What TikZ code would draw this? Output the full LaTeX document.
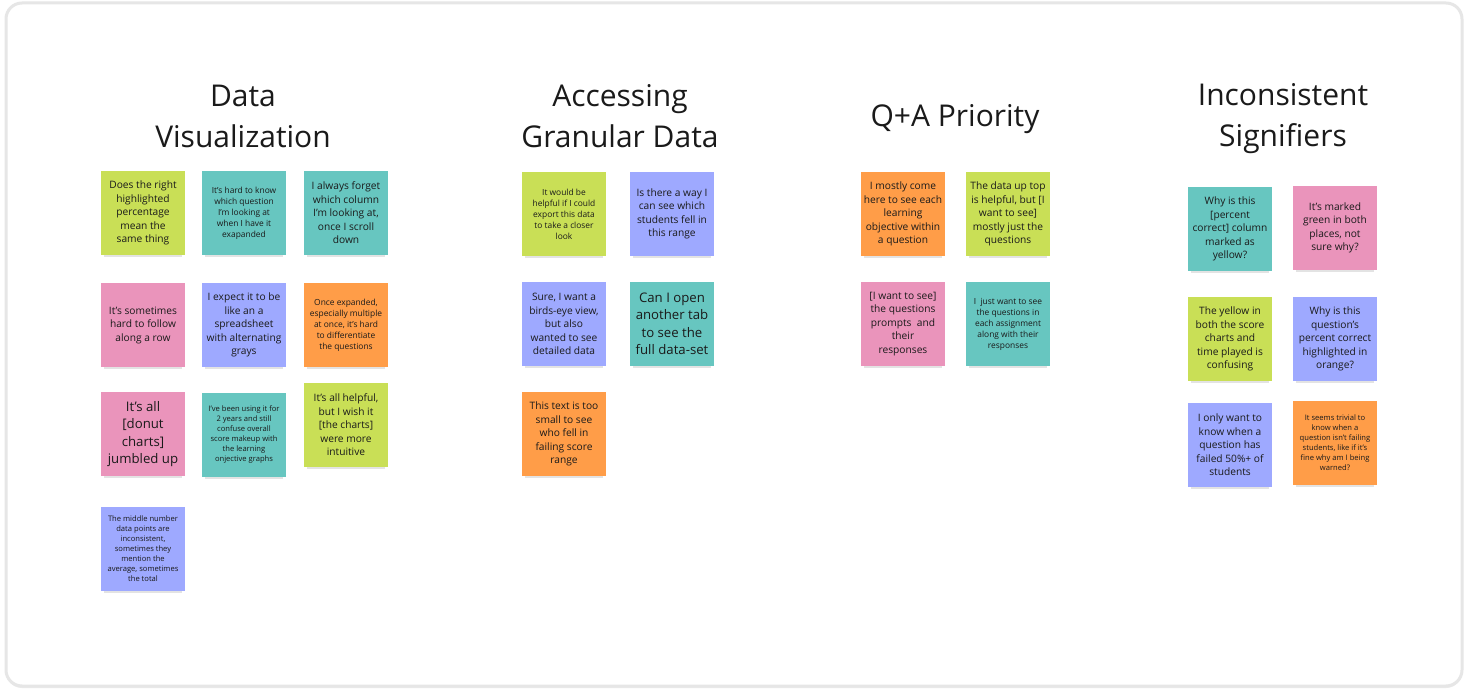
\documentclass[tikz,border=0pt]{standalone}
\usepackage{fontspec}
\setmainfont{Open Sans}
\usepackage{xcolor}
\usepackage{tikz}
\usetikzlibrary{shadows}

\definecolor{limeN}{HTML}{C9DF56}
\definecolor{tealN}{HTML}{67C6C0}
\definecolor{pinkN}{HTML}{EA94BB}
\definecolor{violetN}{HTML}{9EA9FF}
\definecolor{orangeN}{HTML}{FF9D48}
\definecolor{frameN}{HTML}{E6E6E6}
\definecolor{inkN}{HTML}{1A1A1A}

\tikzset{
	note/.style={minimum width=84pt, minimum height=84pt, inner sep=0pt, align=center,
		text=inkN, drop shadow={shadow xshift=0pt, shadow yshift=-6pt, opacity=.22, shadow scale=.92}},
	title/.style={font=\fontsize{30}{41}\selectfont, align=center, text=inkN},
	big/.style={font=\fontsize{13.2}{17.5}\selectfont},
	mid/.style={font=\fontsize{10.2}{13.5}\selectfont},
	small/.style={font=\fontsize{8.4}{11}\selectfont},
	tiny/.style={font=\fontsize{7.6}{10}\selectfont},
}

\begin{document}
\begin{tikzpicture}[x=1pt, y=-1pt]
	\useasboundingbox (0,0) rectangle (1468,692);
	% board
	\fill[white] (0,0) rectangle (1468,692);
	\draw[frameN, line width=3pt, rounded corners=16pt, fill=white,
		drop shadow={shadow xshift=0pt, shadow yshift=-2pt, opacity=.15}] (6,3) rectangle (1462,686);
	
	% titles
	\node[title] (t1) at (243,116) {Data\\Visualization};
	\node[title] (t2) at (620,116) {Accessing\\Granular Data};
	\node[title] (t3) at (955,119) {Q+A Priority};
	\node[title] (t4) at (1283,119) {Inconsistent\\Signifiers};
	
	% Data Visualization
	\node[note, fill=limeN, mid] (a1) at (143,213) {Does the right\\highlighted\\percentage\\mean the\\same thing};
	\node[note, fill=tealN, small] (a2) at (244,213) {It's hard to know\\which question\\I'm looking at\\when I have it\\exapanded};
	\node[note, fill=tealN, mid] (a3) at (346,213) {I always forget\\which column\\I'm looking at,\\once I scroll\\down};
	\node[note, fill=pinkN, mid] (a4) at (143,325) {It's sometimes\\hard to follow\\along a row};
	\node[note, fill=violetN, mid] (a5) at (244,325) {I expect it to be\\like an a\\spreadsheet\\with alternating\\grays};
	\node[note, fill=orangeN, small] (a6) at (346,325) {Once expanded,\\especially multiple\\at once, it's hard\\to differentiate\\the questions};
	\node[note, fill=pinkN, big] (a7) at (143,434) {It's all\\{[}donut\\charts{]}\\jumbled up};
	\node[note, fill=tealN, tiny] (a8) at (244,435) {I've been using it for\\2 years and still\\confuse overall\\score makeup with\\the learning\\onjective graphs};
	\node[note, fill=limeN, mid] (a9) at (346,425) {It's all helpful,\\but I wish it\\{[}the charts{]}\\were more\\intuitive};
	\node[note, fill=violetN, tiny] (a10) at (143,549) {The middle number\\data points are\\inconsistent,\\sometimes they\\mention the\\average, sometimes\\the total};
	
	% Accessing Granular Data
	\node[note, fill=limeN, small] (b1) at (564,214) {It would be\\helpful if I could\\export this data\\to take a closer\\look};
	\node[note, fill=violetN, mid] (b2) at (672,214) {Is there a way I\\can see which\\students fell in\\this range};
	\node[note, fill=violetN, mid] (b3) at (564,324) {Sure, I want a\\birds-eye view,\\but also\\wanted to see\\detailed data};
	\node[note, fill=tealN, big] (b4) at (672,324) {Can I open\\another tab\\to see the\\full data-set};
	\node[note, fill=orangeN, mid] (b5) at (564,434) {This text is too\\small to see\\who fell in\\failing score\\range};
	
	% Q+A Priority
	\node[note, fill=orangeN, mid] (c1) at (903,214) {I mostly come\\here to see each\\learning\\objective within\\a question};
	\node[note, fill=limeN, mid] (c2) at (1008,214) {The data up top\\is helpful, but {[}I\\want to see{]}\\mostly just the\\questions};
	\node[note, fill=pinkN, mid] (c3) at (903,324) {{[}I want to see{]}\\the questions\\prompts\ \ and\\their\\responses};
	\node[note, fill=tealN, small] (c4) at (1008,324) {I\ \ just want to see\\the questions in\\each assignment\\along with their\\responses};
	
	% Inconsistent Signifiers
	\node[note, fill=tealN, mid] (d1) at (1230,229) {Why is this\\{[}percent\\correct{]} column\\marked as\\yellow?};
	\node[note, fill=pinkN, mid] (d2) at (1335,228) {It's marked\\green in both\\places, not\\sure why?};
	\node[note, fill=limeN, mid] (d3) at (1230,339) {The yellow in\\both the score\\charts and\\time played is\\confusing};
	\node[note, fill=violetN, mid] (d4) at (1335,339) {Why is this\\question's\\percent correct\\highlighted in\\orange?};
	\node[note, fill=violetN, mid] (d5) at (1230,445) {I only want to\\know when a\\question has\\failed 50\%+ of\\students};
	\node[note, fill=orangeN, tiny] (d6) at (1335,443) {It seems trivial to\\know when a\\question isn't failing\\students, like if it's\\fine why am I being\\warned?};
\end{tikzpicture}
\end{document}
